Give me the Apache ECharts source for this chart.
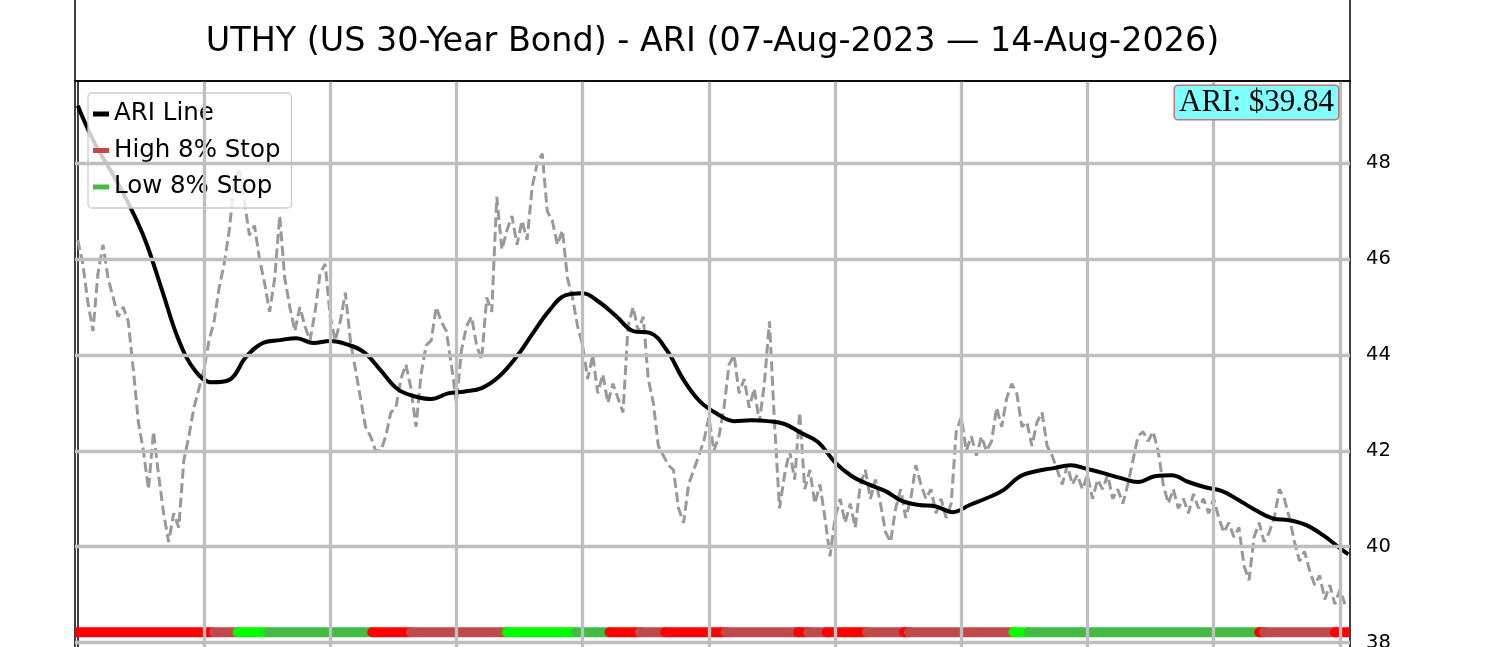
<!DOCTYPE html>
<html>
<head>
<meta charset="utf-8">
<script src="https://cdn.jsdelivr.net/npm/echarts@6/dist/echarts.min.js"></script>
<style>
html,body{margin:0;padding:0;background:#fff;}
#chart{width:1500px;height:647px;}
</style>
</head>
<body>
<div id="chart"></div>
<script>
// ---- data ----
const titleText = 'UTHY (US 30-Year Bond) - ARI (07-Aug-2023 \u2014 14-Aug-2026)';
// closing prices, one value every 3 trading days starting at day 0
const priceStep = 3;
const price = [
  46.4,45.9,45.1,44.5,45.7,46.3,45.6,45.2,44.8,45.0,
  44.7,43.7,42.6,42.0,41.2,42.4,41.5,40.7,40.1,40.7,
  40.4,41.8,42.3,42.9,43.3,43.7,44.3,44.7,45.4,45.9,
  46.6,47.6,47.9,47.2,46.5,46.7,46.0,45.5,44.9,45.6,
  46.9,45.6,45.0,44.5,45.0,44.6,44.3,44.9,45.7,45.9,
  44.8,44.3,44.7,45.3,44.3,43.7,43.1,42.5,42.3,42.0,
  42.0,42.3,42.8,
  42.9,43.5,43.8,43.3,42.5,43.6,44.2,44.3,45.0,44.7,
  44.5,43.8,43.0,44.1,44.6,44.8,44.2,43.9,45.2,44.9,
  47.3,46.2,46.6,46.9,46.3,46.8,46.4,47.5,48.0,48.2,
  47.0,46.8,46.3,46.6,45.6,45.2,44.6,44.2,43.5,44.0,
  43.2,43.6,43.0,43.4,43.1,42.8,44.6,45.0,44.5,44.8,
  43.5,43.0,42.1,41.9,41.7,41.6,40.8,40.5,41.3,41.6,
  41.9,42.2,42.7,42.0,42.3,42.9,43.8,44.0,43.2,43.5,
  42.9,43.3,42.6,43.4,44.7,42.6,40.8,41.5,42.0,41.4,
  42.8,41.2,41.6,40.9,41.3,40.6,39.8,40.6,41.0,40.5,
  40.9,40.4,41.3,41.6,41.0,41.4,40.9,40.3,40.1,40.8,
  41.2,40.6,41.0,41.7,41.3,41.0,41.2,40.7,41.0,40.6,
  40.9,42.4,42.7,42.0,42.3,41.9,42.3,42.0,42.2,42.9,
  42.5,43.1,43.4,43.2,42.5,42.6,42.1,42.6,42.8,42.1,
  41.9,41.6,41.3,41.7,41.3,41.5,41.2,41.5,41.0,41.4,
  41.2,41.5,41.0,41.2,40.9,41.3,41.8,42.3,42.4,42.2,
  42.4,42.0,41.3,40.9,41.2,40.8,41.0,40.7,41.1,40.8,
  41.0,40.7,41.0,40.6,40.3,40.5,40.2,40.4,39.6,39.3,
  40.2,40.5,40.1,40.3,40.6,41.2,41.0,40.6,40.1,39.7,
  39.9,39.5,39.2,39.4,38.9,39.2,38.8,39.1,38.8
];
// ARI line, one value every 10 trading days starting at day 0
const ariStep = 10;
const ari = [
  49.2,48.42,47.82,47.17,46.4,45.36,44.31,43.66,43.43,43.48,
  43.96,44.25,44.31,44.35,44.25,44.29,44.22,44.06,43.68,43.29,
  43.14,43.08,43.2,43.24,43.31,43.54,43.93,44.43,44.92,45.25,
  45.29,45.1,44.81,44.5,44.46,44.1,43.48,43.02,42.77,42.62,
  42.64,42.62,42.56,42.37,42.18,41.76,41.47,41.3,41.16,40.95,
  40.87,40.84,40.72,40.87,41.01,41.18,41.47,41.58,41.64,41.7,
  41.62,41.53,41.43,41.35,41.47,41.49,41.35,41.24,41.16,40.97,
  40.76,40.59,40.55,40.45,40.24,39.97
];
const lastDay = 755;
const ariLast = 39.84;
// stop state band: start day of each state run, and its state
const bandStarts = [0,81,95,113,175,198,255,296,316,334,349,385,428,434,445,469,491,494,556,565,702,705,747];
const bandStates = ['hiA','hi','loA','lo','hiA','hi','loA','lo','hiA','hi','hiA','hi','hiA','hi','hiA','hi','hiA','hi','loA','lo','hiA','hi','hiA'];
const bandLevel = 38.215;
// axis ticks
const xGridDays = [75,150,225,300,375,450,525,600,675,750];
const yTicks = [38,40,42,44,46,48];
const xMin = -1.65, xMax = 756;
const yMin = 37.615, yMax = 49.717;

// ---- styles ----
const stateColor = {hiA:'#ff0000', hi:'#c04a4a', loA:'#00ff00', lo:'#44bb44'};
const stateName = {hiA:'High 8% Stop', hi:'High 8% Stop', loA:'Low 8% Stop', lo:'Low 8% Stop'};
const FONT = 'DejaVu Sans';

const priceData = price.map((v,i)=>[i*priceStep, v]);
const ariData = ari.map((v,i)=>[i*ariStep, v]).concat([[lastDay, ariLast]]);

const series = [];
series.push({
  name:'grid', type:'line', data:[], z:1, silent:true,
  markLine:{
    silent:true, symbol:'none', animation:false,
    label:{show:false},
    lineStyle:{color:'#bfbfbf', width:3.3, type:'solid'},
    data: xGridDays.map(d=>({xAxis:d})).concat(yTicks.map(v=>({yAxis:v})))
  }
});
series.push({
  name:'Price', type:'line', data:priceData, z:2, showSymbol:false, silent:true,
  lineStyle:{color:'#999999', width:3, type:[10,4.5]}
});
series.push({
  name:'ARI Line', type:'line', data:ariData, z:3, showSymbol:false, smooth:0.4, silent:true,
  lineStyle:{color:'#000', width:4}
});
function bandSeries(st, s, e, cap){
  return {
    name: stateName[st], type:'line', z:4, showSymbol:false, silent:true,
    data:[[s,bandLevel],[e,bandLevel]],
    lineStyle:{color:stateColor[st], width:10, cap:cap},
    itemStyle:{color:stateColor[st]}
  };
}
bandStarts.forEach((s,i)=>{
  const st = bandStates[i];
  const last = i === bandStarts.length-1;
  const e = last ? xMax : bandStarts[i+1];
  if (i === 0) {
    series.push(bandSeries(st, xMin, e, 'butt'));
  } else if (last) {
    series.push(bandSeries(st, s, s + 1, 'round'));
    series.push(bandSeries(st, s, e, 'butt'));
  } else {
    series.push(bandSeries(st, s, e, 'round'));
  }
});

const chart = echarts.init(document.getElementById('chart'));
chart.setOption({
  animation:false,
  backgroundColor:'#fff',
  grid:{left:75, right:150, top:81, height:580, outerBoundsMode:'none', containLabel:false,
    show:true, borderColor:'#000', borderWidth:1.5, backgroundColor:'transparent'},
  xAxis:{type:'value', min:xMin, max:xMax, axisLine:{show:false}, axisTick:{show:false}, axisLabel:{show:false}, splitLine:{show:false}},
  yAxis:{type:'value', position:'right', min:yMin, max:yMax,
    axisLine:{show:true, lineStyle:{color:'#000', width:1.5}},
    axisTick:{show:true, length:7, lineStyle:{color:'#000', width:1.5}, customValues:yTicks},
    axisLabel:{show:true, margin:16, color:'#000', fontSize:19.5, fontFamily:FONT, customValues:yTicks},
    splitLine:{show:false}},
  legend:{
    orient:'vertical', left:88, top:93, icon:'rect', itemWidth:16, itemHeight:5, itemGap:8.5,
    padding:[7,11,7,5],
    backgroundColor:'rgba(255,255,255,0.8)', borderColor:'#cccccc', borderWidth:1.3, borderRadius:4,
    textStyle:{fontSize:24.5, fontFamily:FONT, color:'#000', lineHeight:28},
    data:[
      {name:'ARI Line', itemStyle:{color:'#000'}},
      {name:'High 8% Stop', itemStyle:{color:stateColor.hi}},
      {name:'Low 8% Stop', itemStyle:{color:stateColor.lo}}
    ],
    selectedMode:false
  },
  graphic:[
    {type:'rect', z:10, silent:true, shape:{x:75, y:-5, width:1275, height:86},
      style:{fill:'none', stroke:'#000', lineWidth:1.5}},
    {type:'text', z:10, silent:true, x:712.5, y:42.5,
      style:{text:titleText, font:'33.4px "DejaVu Sans"', fill:'#000', align:'center', verticalAlign:'middle'}},
    {type:'text', z:10, silent:true, x:1338, y:86,
      style:{text:'ARI: $' + ariLast.toFixed(2), font:'31px "Liberation Serif"', fill:'#000',
        align:'right', verticalAlign:'top', backgroundColor:'#80ffff', borderColor:'#b87a7a',
        borderWidth:1.5, borderRadius:3, padding:[1,4,1,4], lineHeight:31}}
  ],
  series:series
});
</script>
</body>
</html>
